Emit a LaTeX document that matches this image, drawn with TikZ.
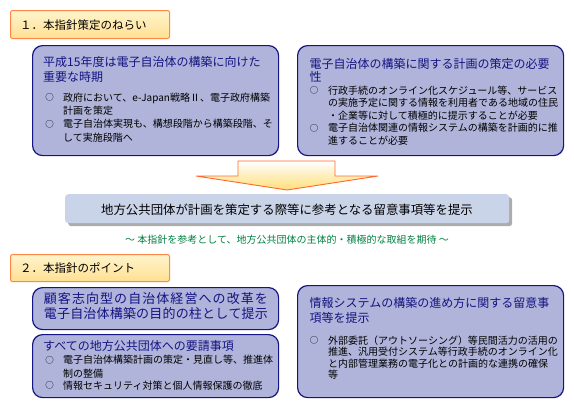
\documentclass[tikz,border=0pt]{standalone}
\usepackage{fontspec}
\setmainfont{Noto Sans CJK JP}
\definecolor{navy}{RGB}{20,20,130}
\definecolor{boxfill}{RGB}{176,180,218}
\definecolor{hdborder}{RGB}{255,136,72}
\definecolor{hdtop}{RGB}{255,244,204}
\definecolor{hdbot}{RGB}{255,224,146}
\definecolor{arrowline}{RGB}{255,104,44}
\definecolor{arrowbot}{RGB}{255,222,120}
\definecolor{grayfill}{RGB}{202,212,232}
\definecolor{shadowgray}{RGB}{172,172,172}
\definecolor{greentext}{RGB}{0,128,64}
\begin{document}
\begin{tikzpicture}[x=1pt,y=-1pt,
  box/.style={draw=navy,line width=1.2pt,fill=boxfill,rounded corners=10pt,anchor=north west,inner sep=0pt},
  hdbox/.style={draw=hdborder,line width=1pt,top color=hdtop,bottom color=hdbot,rounded corners=2pt,anchor=north west,inner sep=0pt},
  hdtext/.style={font=\fontsize{11.5}{11.5}\selectfont,text=black,inner sep=0pt,anchor=base west},
  ttl/.style={font=\fontsize{12}{12}\selectfont,text=navy,inner sep=0pt,anchor=base west},
  bl/.style={font=\fontsize{10}{10}\selectfont,text=black,inner sep=0pt,anchor=base west},
  bul/.style={font=\fontsize{8.5}{8.5}\selectfont,text=black,inner sep=0pt,anchor=center},
  bigl/.style={font=\fontsize{13}{13}\selectfont,text=navy,inner sep=0pt,anchor=base west}]
\useasboundingbox (0,0) rectangle (574,407);

% ---------- heading 1
\node[hdbox,minimum width=159pt,minimum height=28pt] (h1) at (10,10) {};
\node[hdtext] (h1t) at (20,29.4) {１．本指針策定のねらい};

% ---------- box A
\node[box,minimum width=246pt,minimum height=110pt] (boxA) at (32,45) {};
\node[ttl] (a1) at (43,66.9) {平成15年度は電子自治体の構築に向けた};
\node[ttl] (a2) at (43,81.9) {重要な時期};
\node[bul] (ab1) at (49.5,97.3) {○};
\node[bl] (a3) at (63,101.1) {政府において、e-Japan戦略Ⅱ、電子政府構築};
\node[bl] (a4) at (63,114.5) {計画を策定};
\node[bul] (ab2) at (49.5,124) {○};
\node[bl] (a5) at (63,127.8) {電子自治体実現も、構想段階から構築段階、そ};
\node[bl] (a6) at (63,141.1) {して実施段階へ};

% ---------- box B
\node[box,minimum width=266pt,minimum height=110pt] (boxB) at (297,45) {};
\node[ttl] (b1) at (309.5,68) {電子自治体の構築に関する計画の策定の必要};
\node[ttl] (b2) at (309.5,81.9) {性};
\node[bul] (bb1) at (314,90.5) {○};
\node[bl] (b3) at (328,94.3) {行政手続のオンライン化スケジュール等、サービス};
\node[bl] (b4) at (328,106.8) {の実施予定に関する情報を利用者である地域の住民};
\node[bl] (b5) at (328,119.3) {・企業等に対して積極的に提示することが必要};
\node[bul] (bb2) at (314,128) {○};
\node[bl] (b6) at (328,131.8) {電子自治体関連の情報システムの構築を計画的に推};
\node[bl] (b7) at (328,144.3) {進することが必要};

% ---------- arrow
\shade[top color=white,bottom color=arrowbot,draw=arrowline,line width=0.9pt]
  (238,161) -- (335,161) -- (335,176) -- (378,176) -- (287,190) -- (196,176) -- (238,176) -- cycle;

% ---------- gray box
\node[fill=shadowgray,rounded corners=3pt,anchor=north west,minimum width=444pt,minimum height=29pt,inner sep=0pt] (gshadow) at (68,197) {};
\node[fill=grayfill,rounded corners=3pt,anchor=north west,minimum width=444pt,minimum height=29pt,inner sep=0pt] (gbox) at (65,194) {};
\node[font=\fontsize{12.4}{12.4}\selectfont,inner sep=0pt,anchor=base] (gt) at (287,214.7) {地方公共団体が計画を策定する際等に参考となる留意事項等を提示};

\node[font=\fontsize{10}{10}\selectfont,text=greentext,inner sep=0pt,anchor=base] (gr) at (287,243.8) {～ 本指針を参考として、地方公共団体の主体的・積極的な取組を期待 ～};

% ---------- heading 2
\node[hdbox,minimum width=159pt,minimum height=27pt] (h2) at (10,254) {};
\node[hdtext] (h2t) at (20,272.7) {２．本指針のポイント};

% ---------- box C
\node[box,minimum width=246pt,minimum height=42pt] (boxC) at (32,287) {};
\node[bigl] (c1) at (43.7,303.9) {\makebox[224pt][s]{顧\hfill 客\hfill 志\hfill 向\hfill 型\hfill の\hfill 自\hfill 治\hfill 体\hfill 経\hfill 営\hfill へ\hfill の\hfill 改\hfill 革\hfill を}};
\node[bigl] (c2) at (43.7,318.2) {\makebox[224pt][s]{電\hfill 子\hfill 自\hfill 治\hfill 体\hfill 構\hfill 築\hfill の\hfill 目\hfill 的\hfill の\hfill 柱\hfill と\hfill し\hfill て\hfill 提\hfill 示}};

% ---------- box D
\node[box,minimum width=246pt,minimum height=63pt] (boxD) at (32,334) {};
\node[ttl] (d1) at (43,350.3) {すべての地方公共団体への要請事項};
\node[bul] (db1) at (49.5,360) {○};
\node[bl] (d2) at (63,363.8) {電子自治体構築計画の策定・見直し等、推進体};
\node[bl] (d3) at (63,377.1) {制の整備};
\node[bul] (db2) at (49.5,385.7) {○};
\node[bl] (d4) at (63,389.5) {情報セキュリティ対策と個人情報保護の徹底};

% ---------- box E
\node[box,minimum width=266pt,minimum height=112pt] (boxE) at (297,285) {};
\node[ttl] (e1) at (309.5,307.9) {情報システムの構築の進め方に関する留意事};
\node[ttl] (e2) at (309.5,322.9) {項等を提示};
\node[bul] (eb1) at (314,340.7) {○};
\node[bl] (e3) at (328,344.5) {外部委託（アウトソーシング）等民間活力の活用の};
\node[bl] (e4) at (328,355.5) {推進、汎用受付システム等行政手続のオンライン化};
\node[bl] (e5) at (328,367.1) {と内部管理業務の電子化との計画的な連携の確保};
\node[bl] (e6) at (328,378.8) {等};
\end{tikzpicture}
\end{document}
